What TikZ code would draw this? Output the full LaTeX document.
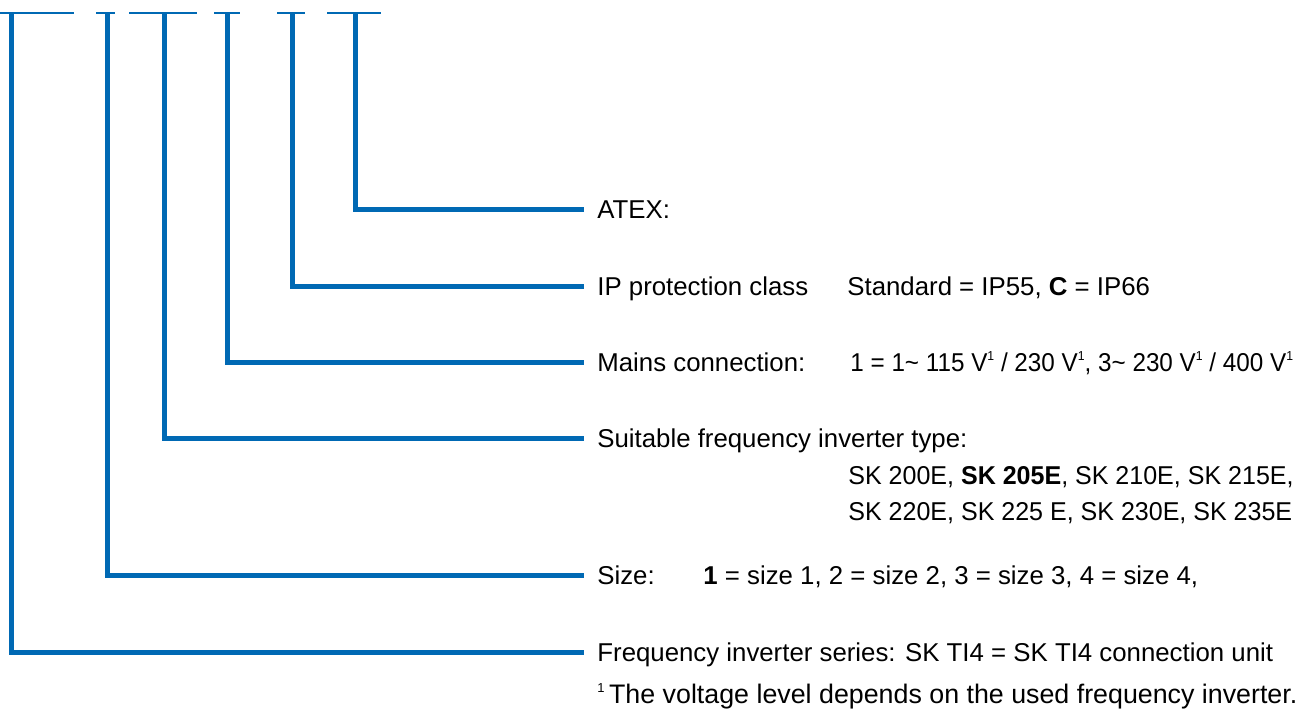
\documentclass[tikz,border=0pt]{standalone}
\usepackage{fontspec}
\setmainfont{Liberation Sans}
\usepackage{tikz}
\usetikzlibrary{calc}
\usetikzlibrary{positioning}

\definecolor{leadblue}{RGB}{0,105,180}
\newcommand{\vsup}{\raisebox{0.75ex}{\fontsize{6.5}{6.5}\selectfont 1}}

\tikzset{
  lead/.style={leadblue, line width=2.5pt},
  bar/.style={leadblue, line width=1.25pt},
  desc/.style={anchor=west, inner sep=0pt, text height=9.2pt, text depth=0pt}
}

\begin{document}
\begin{tikzpicture}[x=0.5pt, y=-0.5pt, font=\fontsize{12.9}{15}\selectfont]
  \useasboundingbox (0,0) rectangle (1303,713);

  % short bars along the top edge
  \foreach \a/\b in {0/74, 96/115, 129/197, 214/240, 277/305, 327/381} {
    \draw[bar] (\a,13) -- (\b,13);
  }

  % upper ends of the leads
  \coordinate (seriesTop) at (11,12);
  \coordinate (sizeTop) at (107,12);
  \coordinate (typeTop) at (164,12);
  \coordinate (mainsTop) at (227,12);
  \coordinate (ipTop) at (292,12);
  \coordinate (atexTop) at (355,12);

  % descriptions
  \node[desc] (atex) at (597, 209) {ATEX:};
  \node[desc] (ip) at (597, 286) {IP protection class};
  \node[desc] (ipval) at (847, 286) {Standard = IP55, \textbf{C} = IP66};
  \node[desc] (mains) at (597, 362) {Mains connection:};
  \node[desc] (mainsval) at (850, 362)
    {\scalebox{0.94}[1]{1 = 1\textasciitilde{} 115 V\vsup{} / 230 V\vsup, 3\textasciitilde{} 230 V\vsup{} / 400 V\vsup}};
  \node[desc] (type) at (597, 438) {Suitable frequency inverter type:};
  \node[desc] (typeA) at (848, 475)
    {\scalebox{0.97}[1]{SK 200E, \textbf{SK 205E}, SK 210E, SK 215E,}};
  \node[desc] (typeB) at (848, 511)
    {\scalebox{0.97}[1]{SK 220E, SK 225 E, SK 230E, SK 235E}};
  \node[desc] (size) at (597, 575) {Size:};
  \node[desc] (sizeval) at (703, 575)
    {\textbf{1} = size 1, 2 = size 2, 3 = size 3, 4 = size 4,};
  \node[desc] (series) at (597, 652)
    {Frequency inverter series: SK TI4 = SK TI4 connection unit};
  \node[desc, font=\fontsize{13.4}{15}\selectfont] (note) at (597, 694)
    {\vsup\,The voltage level depends on the used frequency inverter.};

  % leads
  \foreach \n in {atex, ip, mains, type, size, series} {
    \draw[lead] (\n Top) |- ([xshift=-6.5pt]\n.west);
  }
\end{tikzpicture}
\end{document}
